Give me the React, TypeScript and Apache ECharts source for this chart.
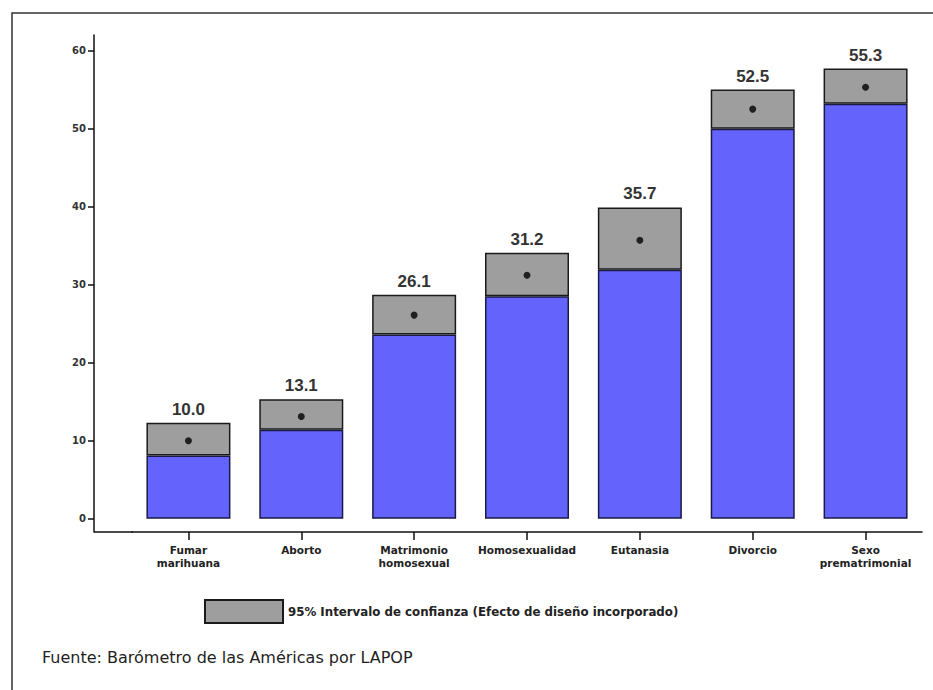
import React, { useEffect, useRef } from "react";
import * as echarts from "echarts";

const categories = [
  "Fumar\nmarihuana",
  "Aborto",
  "Matrimonio\nhomosexual",
  "Homosexualidad",
  "Eutanasia",
  "Divorcio",
  "Sexo\nprematrimonial",
];
const means = [10.0, 13.1, 26.1, 31.2, 35.7, 52.5, 55.3];
const lowerBounds = [8.1, 11.4, 23.6, 28.5, 31.9, 50.0, 53.2];
const upperBounds = [12.3, 15.3, 28.7, 34.1, 39.9, 55.0, 57.7];
const yTicks = [0, 10, 20, 30, 40, 50, 60];
const legendLabel = "95% Intervalo de confianza (Efecto de diseño incorporado)";
const sourceText = "Fuente: Barómetro de las Américas por LAPOP";

const FONT = "'Liberation Sans', Arial, sans-serif";
const WIDE = "'DejaVu Sans', Verdana, sans-serif";

export default function App() {
  const ref = useRef<HTMLDivElement>(null);
  useEffect(() => {
    document.body.style.margin = "0";
    if (!ref.current) return;
    const chart = echarts.init(ref.current, null, { renderer: "svg" });
    const spans = upperBounds.map((u, i) => +(u - lowerBounds[i]).toFixed(2));
    chart.setOption({
      animation: false,
      backgroundColor: "#ffffff",
      textStyle: { fontFamily: FONT },
      title: {
        text: sourceText,
        left: 42,
        top: 649,
        padding: 0,
        textStyle: { fontSize: 16, fontWeight: "normal", color: "#1e1e1e", fontFamily: WIDE },
      },
      legend: {
        data: [legendLabel],
        left: 204,
        top: 599,
        padding: 0,
        itemWidth: 78,
        itemHeight: 23,
        itemGap: 8,
        textStyle: { fontSize: 11.8, fontWeight: "bold", color: "#222", fontFamily: WIDE },
        icon: "rect",
        selectedMode: false,
      },
      grid: { left: 132, right: 11, top: 35, bottom: 158, containLabel: false },
      xAxis: {
        type: "category",
        data: categories,
        axisLine: { show: true, onZero: false, lineStyle: { color: "#111", width: 1.5 } },
        axisTick: { show: true, alignWithLabel: true, length: 8, lineStyle: { color: "#111", width: 1.5 } },
        axisLabel: {
          interval: 0,
          fontSize: 10.5,
          fontWeight: "bold",
          color: "#222",
          margin: 11,
          lineHeight: 13.5,
          fontFamily: WIDE,
        },
        splitLine: { show: false },
      },
      yAxis: {
        type: "value",
        min: -1.7,
        max: 62,
        offset: 38,
        axisLine: { show: true, lineStyle: { color: "#111", width: 1.5 } },
        axisTick: {
          show: true,
          length: 6,
          customValues: yTicks,
          lineStyle: { color: "#111", width: 1.5 },
        },
        axisLabel: {
          customValues: yTicks,
          fontSize: 10,
          fontWeight: "bold",
          color: "#333",
          margin: 8,
          fontFamily: WIDE,
        },
        splitLine: { show: false },
      },
      series: [
        {
          name: "base",
          type: "bar",
          stack: "ci",
          barWidth: 84,
          data: lowerBounds,
          itemStyle: { color: "#6464fc", borderColor: "#1a1a44", borderWidth: 1.5 },
          z: 2,
        },
        {
          name: legendLabel,
          type: "bar",
          stack: "ci",
          barWidth: 84,
          data: spans,
          itemStyle: { color: "#9e9e9e", borderColor: "#1a1a1a", borderWidth: 1.5 },
          label: {
            show: true,
            position: "top",
            distance: 5,
            fontSize: 17,
            fontWeight: "bold",
            color: "#333",
            fontFamily: FONT,
            formatter: (p: any) => means[p.dataIndex].toFixed(1),
          },
          z: 2,
        },
        {
          name: "mean",
          type: "scatter",
          data: means,
          symbolSize: 7,
          itemStyle: { color: "#000" },
          z: 5,
        },
      ],
      graphic: [
        {
          type: "polyline",
          shape: { points: [[12, 690], [12, 13], [933, 13]] },
          style: { stroke: "#333", lineWidth: 1.5, fill: null },
        },
        {
          type: "line",
          shape: { x1: 94, y1: 532, x2: 133, y2: 532 },
          style: { stroke: "#111", lineWidth: 1.5 },
        },
      ],
    });
    return () => chart.dispose();
  }, []);
  return <div ref={ref} style={{ width: 933, height: 690 }} />;
}
